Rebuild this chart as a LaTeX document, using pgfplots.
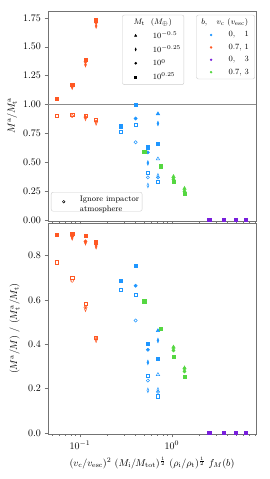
\documentclass[border=0pt]{standalone}
\usepackage{pgfplots}
\pgfplotsset{compat=1.18}
\definecolor{cB}{RGB}{30,150,255}
\definecolor{cO}{RGB}{255,88,35}
\definecolor{cP}{RGB}{120,30,220}
\definecolor{cG}{RGB}{85,215,65}
\pgfplotsset{
  mk/.style={only marks, forget plot, mark size=1.6pt, mark options={solid, line width=0.5pt}},
  dk/.style={only marks, forget plot, mark size=2.3pt, mark options={solid, line width=0.5pt, xscale=0.55}},
  tk/.style={only marks, forget plot, mark size=2.0pt, mark options={solid, line width=0.5pt}},
}
\begin{document}
\begin{tikzpicture}
\path[use as bounding box] (0pt,0pt) rectangle (269pt,479pt);
% ---------------- top axis
\begin{axis}[scale only axis, width=208pt, height=210pt, anchor=south west, at={(48pt,258pt)},
  xmode=log, xmin=0.045, xmax=8.2,
  xtick={0.1,1},
  minor xtick={0.05,0.06,0.07,0.08,0.09,0.2,0.3,0.4,0.5,0.6,0.7,0.8,0.9,2,3,4,5,6,7,8},
  axis line style={black!55, line width=0.6pt},
  every tick/.style={black!55, line width=0.5pt},
  tick align=outside, xtick pos=bottom, ytick pos=left,
  major tick length=3.5pt, minor tick length=2pt,
  ymin=-0.01, ymax=1.81,
  ytick={0,0.25,0.5,0.75,1,1.25,1.5,1.75},
  yticklabel style={/pgf/number format/.cd, fixed, fixed zerofill, precision=2},
  xticklabel=\empty,
  ylabel={$M^\mathrm{a}/M^\mathrm{a}_\mathrm{t}$},
  ylabel style={at={(axis description cs:-0.173,0.5)}, anchor=center},
  legend style={at={(0.357,0.982)}, anchor=north west, draw=black!20, rounded corners=2pt, fill=white, font=\footnotesize,
    nodes={inner sep=0pt}, row sep=5.6pt, inner xsep=3pt, inner ysep=3.5pt}, legend cell align=left,
  legend image code/.code={\path (0pt,0pt) (27pt,0pt); \draw[#1] plot coordinates {(10pt,0pt)};}]
\addplot[forget plot, black!45, line width=0.6pt] coordinates {(0.045,1) (8.2,1)};
% blue filled
\addplot[mk, cB, mark=square*] coordinates {(0.279,0.811)(0.403,0.995)(0.548,0.629)(0.705,0.661)};
\addplot[mk, cB, mark=*] coordinates {(0.403,0.878)(0.548,0.585)};
\addplot[dk, cB, mark=diamond*] coordinates {(0.548,0.493)(0.705,0.835)};
\addplot[tk, cB, mark=triangle*] coordinates {(0.705,0.919)};
% blue open
\addplot[mk, cB, mark=square] coordinates {(0.279,0.763)(0.403,0.826)(0.548,0.406)(0.705,0.328)};
\addplot[mk, cB, mark=o] coordinates {(0.403,0.672)(0.548,0.368)(0.705,0.368)};
\addplot[dk, cB, mark=diamond] coordinates {(0.548,0.298)(0.705,0.382)};
\addplot[tk, cB, mark=triangle] coordinates {(0.705,0.528)};
% orange filled
\addplot[mk, cO, mark=square*] coordinates {(0.056,1.046)(0.0824,1.17)(0.115,1.385)(0.150,1.73)};
\addplot[mk, cO, mark=*] coordinates {(0.0824,1.16)(0.115,1.37)(0.150,1.71)};
\addplot[dk, cO, mark=diamond*] coordinates {(0.0824,1.15)(0.115,1.345)(0.150,1.68)};
% orange open
\addplot[mk, cO, mark=square] coordinates {(0.056,0.904)(0.0824,0.91)(0.115,0.905)(0.150,0.865)};
\addplot[mk, cO, mark=o] coordinates {(0.0824,0.90)(0.115,0.89)(0.150,0.85)};
\addplot[dk, cO, mark=diamond] coordinates {(0.115,0.88)(0.150,0.84)};
% purple
\addplot[mk, cP, mark=square*] coordinates {(2.54,0)(3.65,0)(4.96,0)(6.37,0)};
% green
\addplot[mk, cG, mark=square*] coordinates {(0.50,0.589)(0.76,0.464)(1.04,0.33)(1.37,0.228)};
\addplot[mk, cG, mark=*] coordinates {(1.04,0.35)(1.37,0.245)};
\addplot[dk, cG, mark=diamond*] coordinates {(1.04,0.36)(1.37,0.258)};
\addplot[tk, cG, mark=triangle*] coordinates {(1.04,0.375)(1.37,0.272)};
% legend 1
\addlegendimage{empty legend}\addlegendentry{\hspace*{-19.3pt}$M_\mathrm{t}$ \ ($M_\oplus$)}
\addlegendimage{only marks, black, mark=triangle*, mark size=1.3pt}\addlegendentry{$10^{-0.5}$}
\addlegendimage{only marks, black, mark=diamond*, mark size=1.5pt, mark options={xscale=0.6}}\addlegendentry{$10^{-0.25}$}
\addlegendimage{only marks, black, mark=*, mark size=1.1pt}\addlegendentry{$10^{0}$}
\addlegendimage{only marks, black, mark=square*, mark size=1.0pt}\addlegendentry{$10^{0.25}$}
\end{axis}
% legend 2
\begin{axis}[scale only axis, width=208pt, height=210pt, anchor=south west, at={(48pt,258pt)},
  xmin=0, xmax=1, ymin=0, ymax=1, hide axis,
  legend style={at={(0.713,0.982)}, anchor=north west, draw=black!20, rounded corners=2pt, fill=white, font=\footnotesize,
    nodes={inner sep=0pt}, row sep=5.6pt, inner xsep=3pt, inner ysep=3.5pt}, legend cell align=left,
  legend image code/.code={\path (0pt,0pt) (28.7pt,0pt); \draw[#1] plot coordinates {(11.4pt,0pt)};}]
\addplot[draw=none, forget plot] coordinates {(0.5,0.5)};
\addlegendimage{empty legend}\addlegendentry{\hspace*{-27.3pt}$b$,\phantom{.7} $v_\mathrm{c}$ ($v_\mathrm{esc}$)\hspace*{3.5pt}}
\addlegendimage{only marks, cB, mark=*, mark size=1.0pt}\addlegendentry{$0$,\phantom{.7} $1$}
\addlegendimage{only marks, cO, mark=*, mark size=1.0pt}\addlegendentry{$0.7$, $1$}
\addlegendimage{only marks, cP, mark=*, mark size=1.0pt}\addlegendentry{$0$,\phantom{.7} $3$}
\addlegendimage{only marks, cG, mark=*, mark size=1.0pt}\addlegendentry{$0.7$, $3$}
\end{axis}
% legend 3
\begin{axis}[scale only axis, width=208pt, height=210pt, anchor=south west, at={(48pt,258pt)},
  xmin=0, xmax=1, ymin=0, ymax=1, hide axis,
  legend style={at={(0.0144,0.138)}, anchor=north west, draw=black!20, rounded corners=2pt, fill=white, font=\footnotesize,
    nodes={inner sep=0pt}, inner xsep=3pt, inner ysep=3pt}, legend cell align=left,
  legend image code/.code={\path (0pt,0pt) (25.3pt,0pt); \draw[#1] plot coordinates {(9.3pt,0pt)};}]
\addplot[draw=none, forget plot] coordinates {(0.5,0.5)};
\addlegendimage{only marks, black, mark=o, mark size=1.3pt, mark options={line width=0.5pt}}
\addlegendentry{\begin{tabular}{@{}l@{}}Ignore impactor\\atmosphere\end{tabular}}
\end{axis}
% ---------------- bottom axis
\begin{axis}[scale only axis, width=208pt, height=211pt, anchor=south west, at={(48pt,45pt)},
  xmode=log, xmin=0.045, xmax=8.2,
  xtick={0.1,1},
  minor xtick={0.05,0.06,0.07,0.08,0.09,0.2,0.3,0.4,0.5,0.6,0.7,0.8,0.9,2,3,4,5,6,7,8},
  axis line style={black!55, line width=0.6pt},
  every tick/.style={black!55, line width=0.5pt},
  tick align=outside, xtick pos=bottom, ytick pos=left,
  major tick length=3.5pt, minor tick length=2pt,
  ymin=-0.005, ymax=0.947,
  ytick={0,0.2,0.4,0.6,0.8},
  yticklabel style={/pgf/number format/.cd, fixed, fixed zerofill, precision=1},
  xlabel={$(v_\mathrm{c}/v_\mathrm{esc})^2\ (M_\mathrm{i}/M_\mathrm{tot})^{\frac{1}{2}}\ (\rho_\mathrm{i}/\rho_\mathrm{t})^{\frac{1}{2}}\ f_M(b)$},
  xlabel style={at={(axis description cs:0.5,-0.137)}, anchor=center},
  ylabel={$(M^\mathrm{a}/M)\ /\ (M^\mathrm{a}_\mathrm{t}/M_\mathrm{t})$},
  ylabel style={at={(axis description cs:-0.16,0.5)}, anchor=center}]
% blue filled
\addplot[mk, cB, mark=square*] coordinates {(0.279,0.688)(0.403,0.755)(0.548,0.402)(0.705,0.333)};
\addplot[mk, cB, mark=*] coordinates {(0.403,0.664)(0.548,0.375)};
\addplot[dk, cB, mark=diamond*] coordinates {(0.548,0.318)(0.705,0.417)};
\addplot[tk, cB, mark=triangle*] coordinates {(0.705,0.461)};
% blue open
\addplot[mk, cB, mark=square] coordinates {(0.279,0.646)(0.403,0.623)(0.548,0.259)(0.705,0.165)};
\addplot[mk, cB, mark=o] coordinates {(0.403,0.507)(0.548,0.236)(0.705,0.185)};
\addplot[dk, cB, mark=diamond] coordinates {(0.548,0.192)(0.705,0.194)};
\addplot[tk, cB, mark=triangle] coordinates {(0.705,0.263)};
% orange filled
\addplot[mk, cO, mark=square*] coordinates {(0.056,0.893)(0.0824,0.898)(0.115,0.889)(0.150,0.860)};
\addplot[mk, cO, mark=*] coordinates {(0.0824,0.887)(0.115,0.864)(0.150,0.850)};
\addplot[dk, cO, mark=diamond*] coordinates {(0.0824,0.880)(0.115,0.858)(0.150,0.840)};
% orange open
\addplot[mk, cO, mark=square] coordinates {(0.056,0.770)(0.0824,0.701)(0.115,0.581)(0.150,0.431)};
\addplot[mk, cO, mark=o] coordinates {(0.0824,0.686)(0.115,0.566)(0.150,0.424)};
\addplot[dk, cO, mark=diamond] coordinates {(0.115,0.558)(0.150,0.418)};
% purple
\addplot[mk, cP, mark=square*] coordinates {(2.54,0.002)(3.65,0.002)(4.96,0.002)(6.37,0.002)};
% green
\addplot[mk, cG, mark=square*] coordinates {(0.50,0.594)(0.76,0.470)(1.04,0.342)(1.37,0.252)};
\addplot[mk, cG, mark=*] coordinates {(1.04,0.372)(1.37,0.277)};
\addplot[dk, cG, mark=diamond*] coordinates {(1.04,0.380)(1.37,0.285)};
\addplot[tk, cG, mark=triangle*] coordinates {(1.04,0.387)(1.37,0.293)};
\end{axis}
\end{tikzpicture}
\end{document}
